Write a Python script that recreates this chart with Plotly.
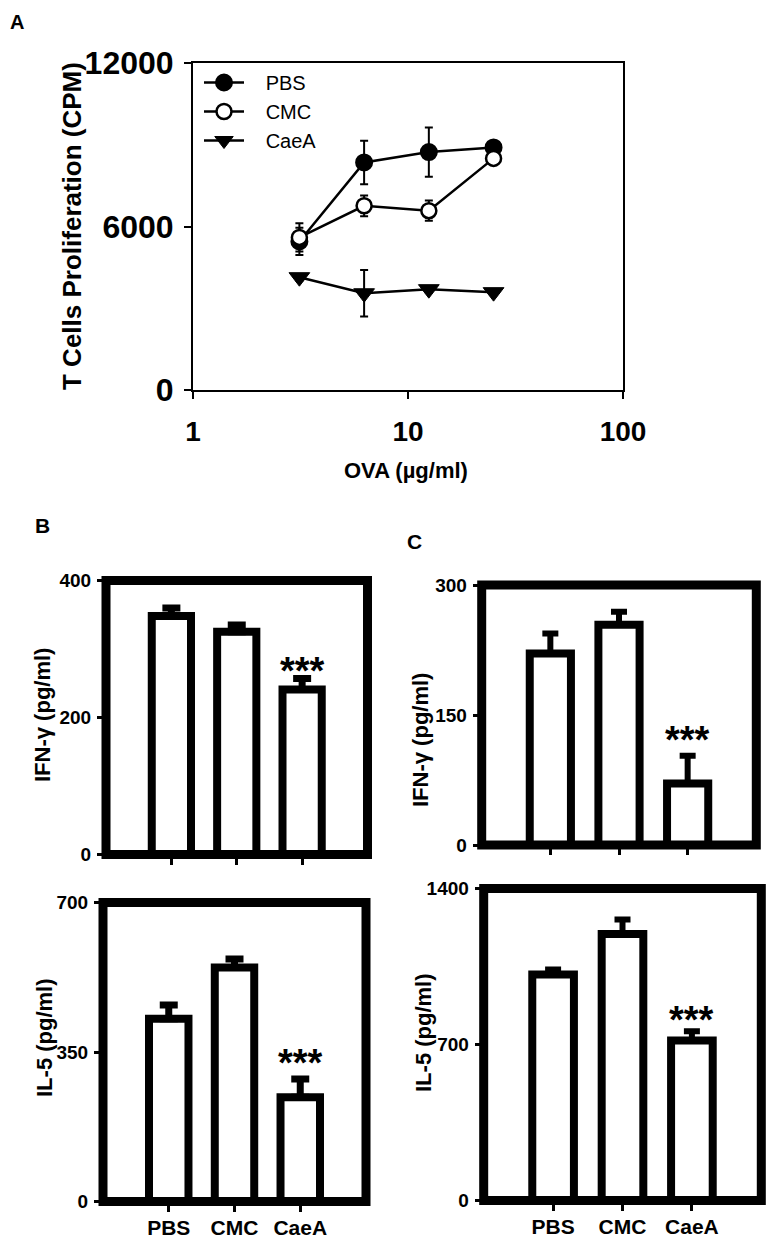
import plotly.graph_objects as go

# ---------------- data ----------------
ova = [3.125, 6.25, 12.5, 25]
pbs_cpm = [5450, 8350, 8730, 8900]
pbs_cpm_err = [500, 800, 900, 100]
cmc_cpm = [5600, 6760, 6580, 8500]
cmc_cpm_err = [520, 380, 370, 100]
caea_cpm = [4140, 3550, 3700, 3590]
caea_cpm_err = [120, 850, 120, 100]

groups = ["PBS", "CMC", "CaeA"]
b_ifn = [348, 325, 241]
b_ifn_err = [12, 10, 16]
b_il5 = [428, 548, 244]
b_il5_err = [32, 20, 43]
c_ifn = [221, 254, 71]
c_ifn_err = [23, 15, 32]
c_il5 = [1014, 1196, 718]
c_il5_err = [22, 65, 42]

# page has an 8px body margin; figure is sized to fit the 774x1250 window
OFF = 8
W, H = 774 - OFF, 1250 - OFF
ARIAL = "Liberation Sans, Arial, sans-serif"
NB = "\u00a0"


def px_x(p):
    return (p - OFF) / W


def px_y(p):
    return 1 - (p - OFF) / H


fig = go.Figure()

# ---------------- panel A ----------------
series = [
    ("PBS", pbs_cpm, pbs_cpm_err, dict(symbol="circle", size=16, color="black",
                                        line=dict(color="black", width=2))),
    ("CMC", cmc_cpm, cmc_cpm_err, dict(symbol="circle", size=15, color="white",
                                        line=dict(color="black", width=2.5))),
    ("CaeA", caea_cpm, caea_cpm_err, dict(symbol="triangle-down", size=18, color="black",
                                           line=dict(color="black", width=1))),
]
for name, vals, errs, mk in series:
    fig.add_trace(go.Scatter(
        x=ova, y=vals, name=NB * 3 + name, mode="lines+markers",
        line=dict(color="black", width=2.5), marker=mk,
        error_y=dict(type="data", array=errs, color="black", thickness=2, width=4),
        xaxis="x", yaxis="y", showlegend=True,
    ))

# ---------------- bar panels ----------------
bar_panels = [
    ("x2", "y2", b_ifn, b_ifn_err, 9, 7, -16),
    ("x3", "y3", c_ifn, c_ifn_err, 8, 6, -7),
    ("x4", "y4", b_il5, b_il5_err, 9, 7, -7),
    ("x5", "y5", c_il5, c_il5_err, 8, 6, -12),
]
for xa, ya, vals, errs, cw, th, ys in bar_panels:
    fig.add_trace(go.Bar(
        x=[0, 1, 2], y=vals, width=0.6,
        marker=dict(color="white", line=dict(color="black", width=8)),
        error_y=dict(type="data", symmetric=False, array=errs, arrayminus=[0, 0, 0],
                     color="black", thickness=th, width=cw),
        xaxis=xa, yaxis=ya, showlegend=False,
    ))
    # significance stars over CaeA
    fig.add_annotation(
        x=2, y=vals[2] + errs[2], xref=xa, yref=ya, text="<b>***</b>",
        showarrow=False, yanchor="bottom", yshift=ys,
        font=dict(family=ARIAL, size=38, color="black"),
    )
    fig.add_shape(type="rect", xref=f"{xa} domain", yref=f"{ya} domain",
                  x0=0, x1=1, y0=0, y1=1, line=dict(color="black", width=9),
                  layer="above")

# ---------------- layout ----------------
layout = dict(
    width=W, height=H, margin=dict(l=0, r=0, t=0, b=0, autoexpand=False),
    paper_bgcolor="white", plot_bgcolor="white",
    showlegend=True,
    legend=dict(x=px_x(199), y=px_y(63), xanchor="left", yanchor="top",
                bgcolor="rgba(0,0,0,0)", font=dict(family=ARIAL, size=20, color="black"),
                tracegroupgap=0, itemwidth=40),
    xaxis=dict(type="log", domain=[px_x(193), px_x(623)], range=[0, 2],
               tickvals=[1, 10, 100], ticktext=["1", "10", "100"],
               showline=True, mirror=True, linecolor="black", linewidth=2,
               ticks="outside", ticklen=7, tickwidth=2, tickcolor="black",
               showgrid=False, zeroline=False, anchor="y", automargin=False,
               tickfont=dict(family=ARIAL, size=28, color="black", weight="bold"),
               ticklabelstandoff=8),
    yaxis=dict(domain=[px_y(390), px_y(63)], range=[0, 12000],
               tickvals=[0, 6000, 12000], ticktext=["0", "6000", "12000"],
               showline=True, mirror=True, linecolor="black", linewidth=2,
               ticks="outside", ticklen=7, tickwidth=2, tickcolor="black",
               showgrid=False, zeroline=False, anchor="x", automargin=False,
               tickfont=dict(family=ARIAL, size=32, color="black", weight="bold"),
               ticklabelstandoff=4),
)

bar_axes = [
    ("xaxis2", "yaxis2", "x2", "y2", (106, 367.5), (580.5, 854.5), [0, 200, 400], [0, 400], False),
    ("xaxis3", "yaxis3", "x3", "y3", (481.7, 756.3), (585, 845), [0, 150, 300], [0, 300], False),
    ("xaxis4", "yaxis4", "x4", "y4", (103, 366), (902.5, 1201.5), [0, 350, 700], [0, 700], True),
    ("xaxis5", "yaxis5", "x5", "y5", (483.7, 761.3), (888.5, 1200.5), [0, 700, 1400], [0, 1400], True),
]
for xk, yk, xa, ya, xd, yd, yt, yr, show_lab in bar_axes:
    layout[xk] = dict(domain=[px_x(xd[0]), px_x(xd[1])], range=[-1, 3],
                      tickvals=[0, 1, 2], ticktext=groups, showticklabels=show_lab,
                      ticks="outside", ticklen=9, tickwidth=3, tickcolor="black",
                      showgrid=False, zeroline=False, showline=False, anchor=ya,
                      automargin=False,
                      tickfont=dict(family=ARIAL, size=21, color="black", weight="bold"),
                      ticklabelstandoff=-2)
    layout[yk] = dict(domain=[px_y(yd[1]), px_y(yd[0])], range=yr,
                      tickvals=yt, ticktext=[str(v) for v in yt],
                      ticks="outside", ticklen=8, tickwidth=3, tickcolor="black",
                      showgrid=False, zeroline=False, showline=False, anchor=xa,
                      automargin=False,
                      tickfont=dict(family=ARIAL, size=19, color="black", weight="bold"),
                      ticklabelstandoff=2)
fig.update_layout(**layout)

# ---------------- titles and panel letters ----------------
def note(text, x, y, size, angle=0):
    fig.add_annotation(text=f"<b>{text}</b>", x=px_x(x), y=px_y(y), xref="paper", yref="paper",
                       showarrow=False, xanchor="center", yanchor="middle", textangle=angle,
                       font=dict(family=ARIAL, size=size, color="black"))

note("T Cells Proliferation (CPM)", 72, 226, 26, -90)
note("OVA (µg/ml)", 406, 470, 22)
note("IFN-γ (pg/ml)", 42, 715, 22, -90)
note("IL-5 (pg/ml)", 44, 1038, 22, -90)
note("IFN-γ (pg/ml)", 421, 740, 22, -90)
note("IL-5 (pg/ml)", 423, 1033, 22, -90)
note("A", 17, 22, 20)
note("B", 42, 525, 21)
note("C", 414, 541, 21)

fig.write_html("out.html")
